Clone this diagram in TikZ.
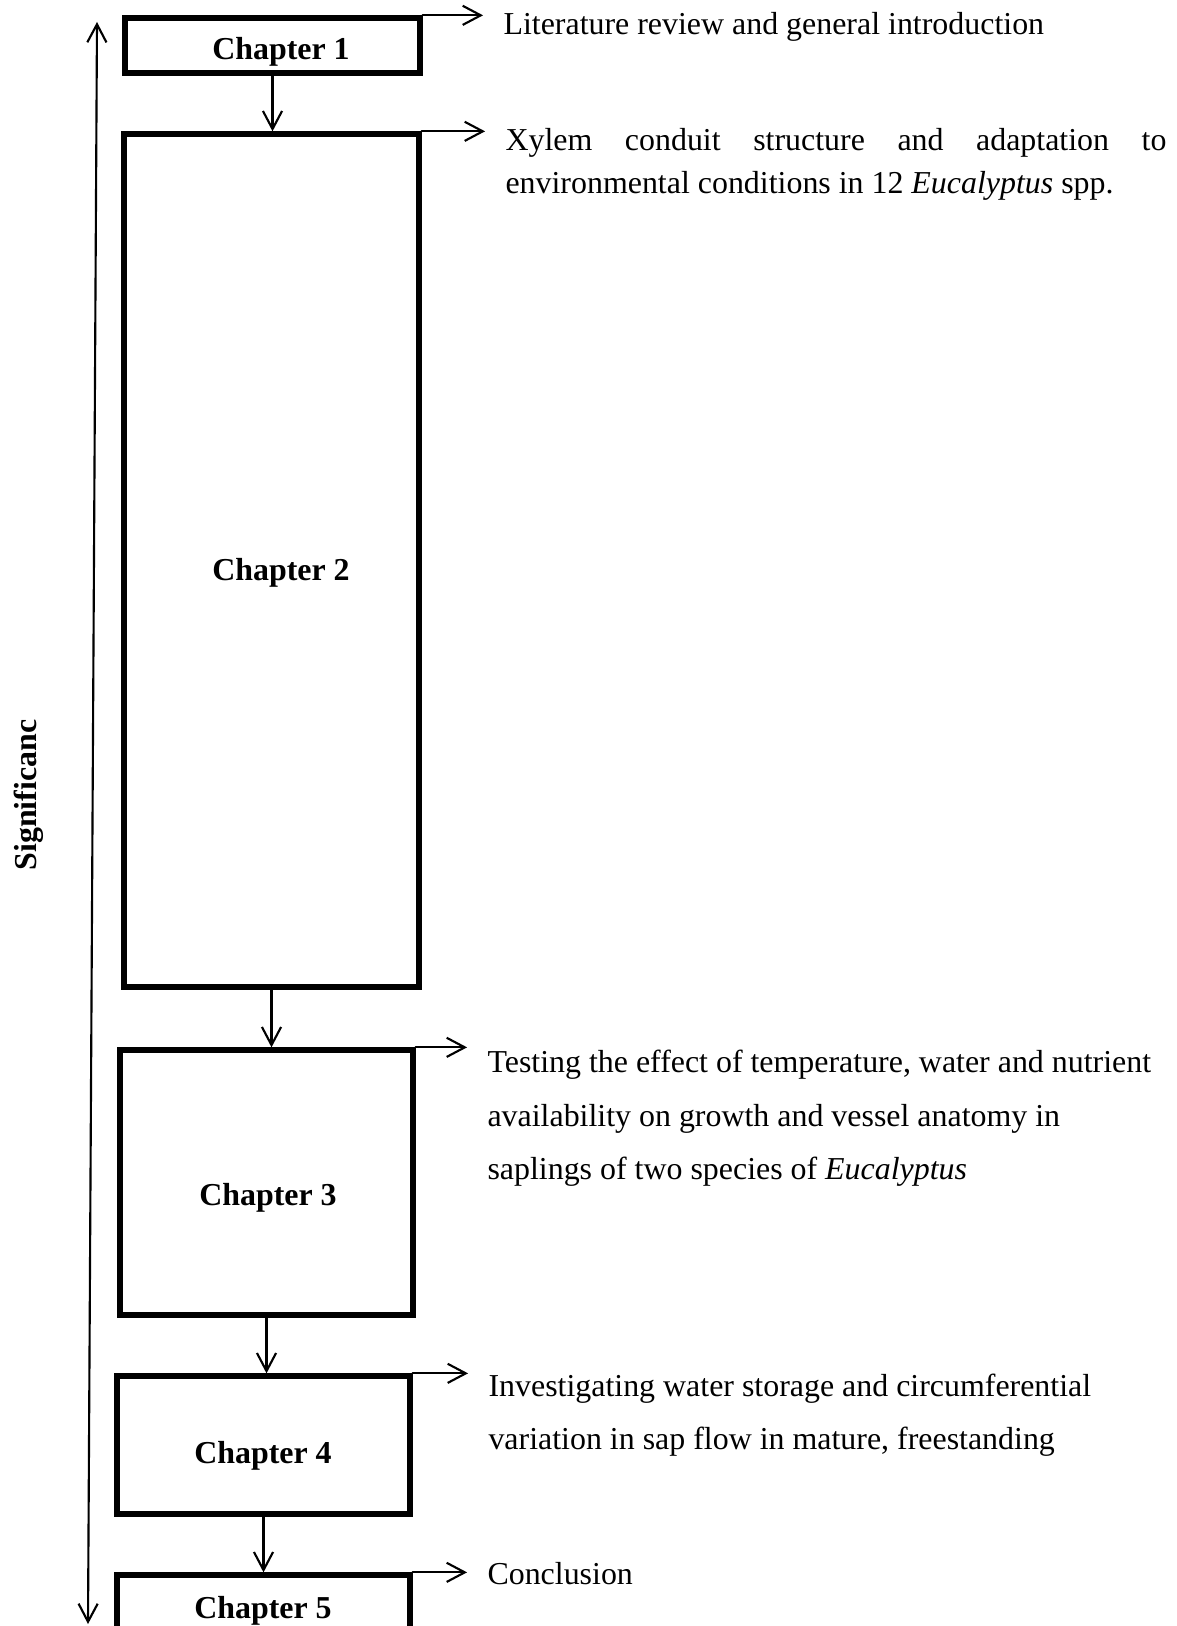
\documentclass[tikz,border=0pt]{standalone}
\usepackage{fontspec}
\setmainfont{Liberation Serif}
\usepackage{tikz}
\usetikzlibrary{arrows.meta, calc, fit, positioning}

\tikzset{
  chbox/.style={draw, line width=2pt, inner sep=0pt},
  chname/.style={font=\fontsize{12}{14}\selectfont\bfseries, anchor=base, inner sep=0pt},
  chnote/.style={font=\fontsize{12}{14}\selectfont, inner sep=0pt, align=left},
  flow/.style={->, line width=0.8pt},
  sideflow/.style={->, line width=0.8pt, shorten >=7.5pt},
}

\begin{document}
\begin{tikzpicture}[x=0.376pt, y=-0.376pt, line cap=round, >={Straight Barb[length=6.8pt,width=7.2pt]}]
    \useasboundingbox (0,0) rectangle (1176,1626);
    \clip (0,0) rectangle (1176,1626);

    % chapter boxes
    \node[chbox, fit={(125,18) (420,73)}] (ch1) {};
    \node[chbox, fit={(124,134) (419,987)}] (ch2) {};
    \node[chbox, fit={(120,1050) (413,1315)}] (ch3) {};
    \node[chbox, fit={(117,1376) (410,1514)}] (ch4) {};
    \node[chbox, fit={(117,1575) (410,1690)}] (ch5) {};

    \node[chname] (ch1name) at (281,60) {Chapter 1};
    \node[chname] (ch2name) at (281,580) {Chapter 2};
    \node[chname] (ch3name) at (268,1205) {Chapter 3};
    \node[chname] (ch4name) at (263,1463) {Chapter 4};
    \node[chname] (ch5name) at (263,1618) {Chapter 5};

    % notes on the right
    \node[chnote, anchor=base west] (ch1note) at (503,35) {Literature review and general introduction};
    \node[chnote, anchor=north west, font=\fontsize{12}{16.2}\selectfont] (ch2note) at (505,128)
        {\makebox[248.5pt][s]{Xylem conduit structure and adaptation to}\\
         environmental conditions in 12 \textit{Eucalyptus} spp.};
    \node[chnote, anchor=north west, font=\fontsize{12}{20.3}\selectfont] (ch3note) at (487,1049)
        {Testing the effect of temperature, water and nutrient\\
         availability on growth and vessel anatomy in\\
         saplings of two species of \textit{Eucalyptus}};
    \node[chnote, anchor=north west, font=\fontsize{12}{20}\selectfont] (ch4note) at (488,1373)
        {Investigating water storage and circumferential\\
         variation in sap flow in mature, freestanding};
    \node[chnote, anchor=base west] (ch5note) at (487,1584) {Conclusion};

    % significance axis
    \coordinate (sigtop) at (97,22);
    \coordinate (sigbot) at (88,1624);
    \draw[<->, line width=0.8pt] (sigbot) -- (sigtop);
    \node[chname, rotate=90] (sig) at (37,795) {Significanc};

    % links
    \draw[flow] (ch1.south) -- (ch1.south |- ch2.north);
    \draw[flow] (ch2.south) -- (ch2.south |- ch3.north);
    \draw[flow] (ch3.south) -- (ch3.south |- ch4.north);
    \draw[flow] (ch4.south) -- (ch4.south |- ch5.north);

    \draw[sideflow] (ch1.north east) -- (ch1.north east -| ch1note.west);
    \draw[sideflow] (ch2.north east) -- (ch2.north east -| ch2note.west);
    \draw[sideflow] (ch3.north east) -- (ch3.north east -| ch3note.west);
    \draw[sideflow] (ch4.north east) -- (ch4.north east -| ch4note.west);
    \draw[sideflow] (ch5.north east) -- (ch5.north east -| ch5note.west);
\end{tikzpicture}
\end{document}
